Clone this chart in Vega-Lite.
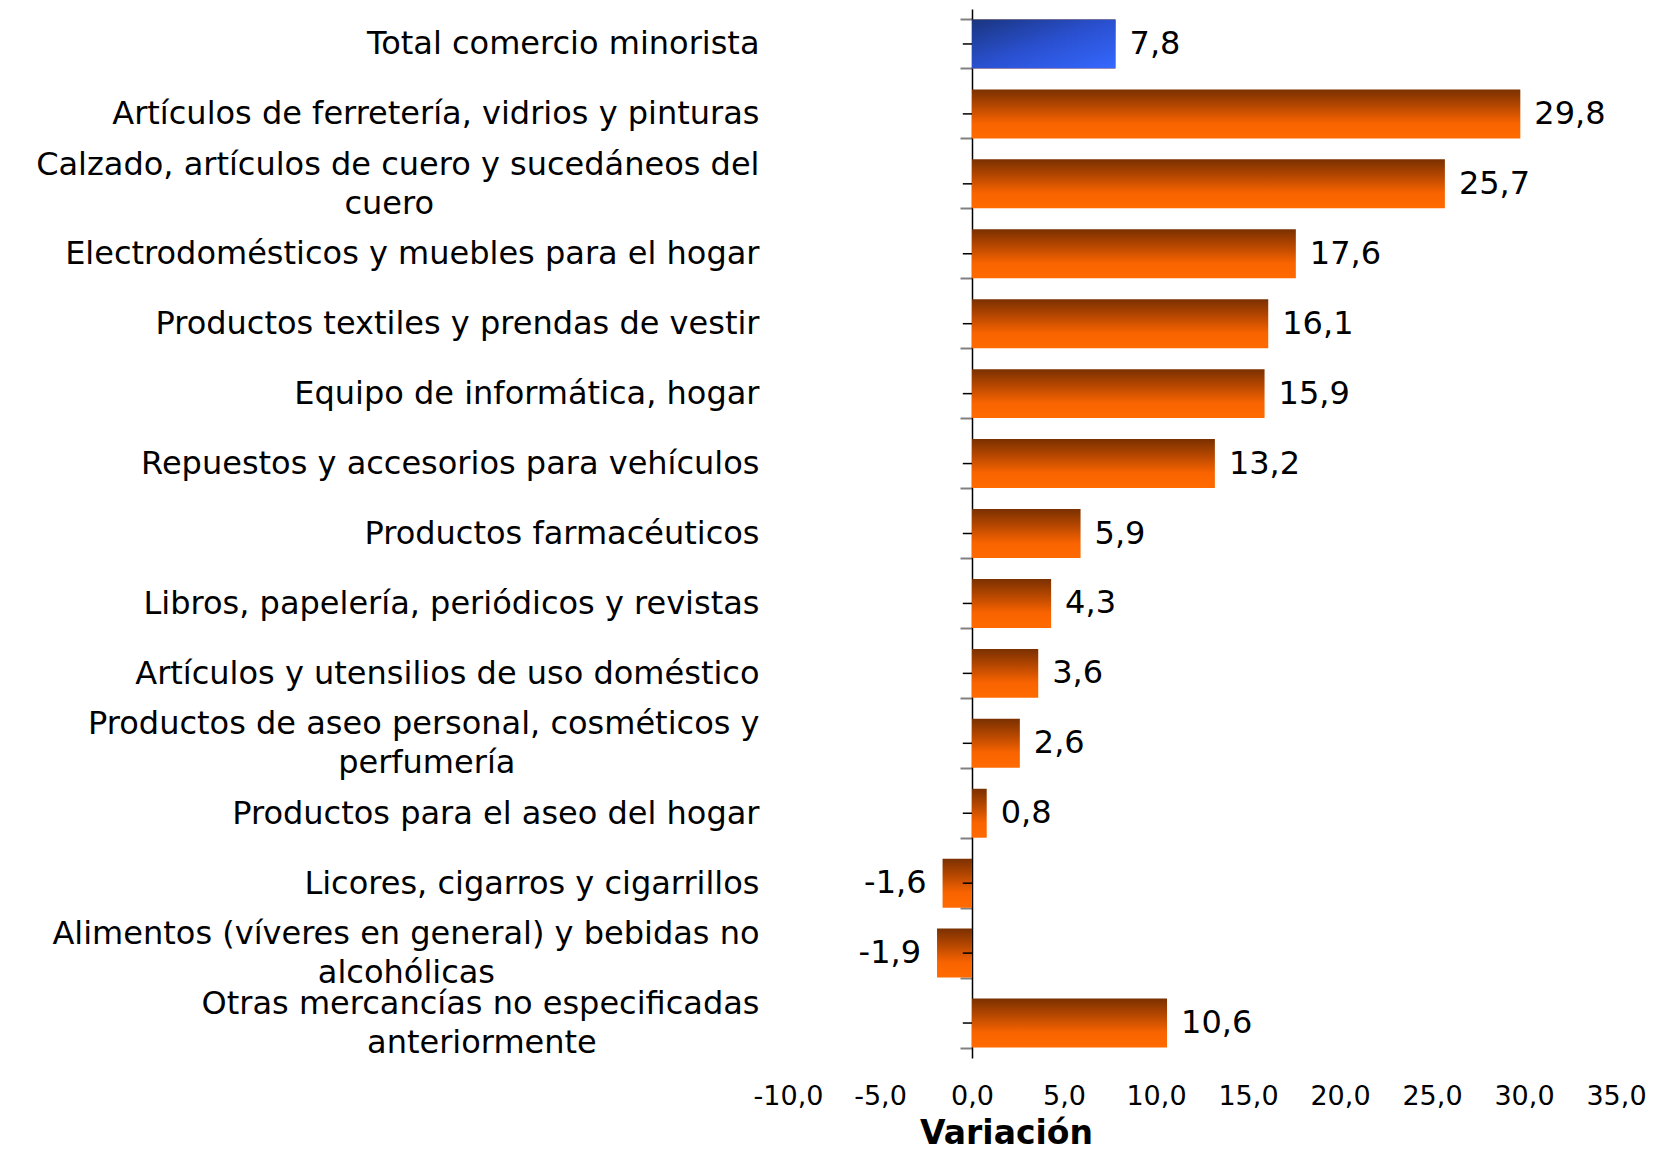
{
  "$schema": "https://vega.github.io/schema/vega-lite/v6.json",
  "width": 828,
  "height": 1049,
  "autosize": "none",
  "padding": {"left": 788, "top": 9, "right": 41, "bottom": 91},
  "background": "white",
  "config": {
    "view": {"stroke": null},
    "font": "DejaVu Sans",
    "locale": {"number": {"decimal": ",", "thousands": ".", "grouping": [3], "currency": ["", ""], "minus": "-"}}
  },
  "data": {
    "values": [
      {"categoria": "Total comercio minorista", "variacion": 7.8, "grupo": "total"},
      {"categoria": "Artículos de ferretería, vidrios y pinturas", "variacion": 29.8, "grupo": "rama"},
      {"categoria": "Calzado, artículos de cuero y sucedáneos del|cuero", "variacion": 25.7, "grupo": "rama"},
      {"categoria": "Electrodomésticos y muebles para el hogar", "variacion": 17.6, "grupo": "rama"},
      {"categoria": "Productos textiles y prendas de vestir", "variacion": 16.1, "grupo": "rama"},
      {"categoria": "Equipo de informática, hogar", "variacion": 15.9, "grupo": "rama"},
      {"categoria": "Repuestos y accesorios para vehículos", "variacion": 13.2, "grupo": "rama"},
      {"categoria": "Productos farmacéuticos", "variacion": 5.9, "grupo": "rama"},
      {"categoria": "Libros, papelería, periódicos y revistas", "variacion": 4.3, "grupo": "rama"},
      {"categoria": "Artículos y utensilios de uso doméstico", "variacion": 3.6, "grupo": "rama"},
      {"categoria": "Productos de aseo personal, cosméticos y|perfumería", "variacion": 2.6, "grupo": "rama"},
      {"categoria": "Productos para el aseo del hogar", "variacion": 0.8, "grupo": "rama"},
      {"categoria": "Licores, cigarros y cigarrillos", "variacion": -1.6, "grupo": "rama"},
      {"categoria": "Alimentos (víveres en general) y bebidas no|alcohólicas", "variacion": -1.9, "grupo": "rama"},
      {"categoria": "Otras mercancías no especificadas|anteriormente", "variacion": 10.6, "grupo": "rama"}
    ]
  },
  "layer": [
    {
      "mark": {"type": "bar", "color": {"gradient": "linear", "x1": 0, "y1": 0, "x2": 0, "y2": 1,
            "stops": [{"offset": 0, "color": "#7a3000"}, {"offset": 0.35, "color": "#b84800"}, {"offset": 0.7, "color": "#fa6400"}, {"offset": 1, "color": "#ff6a00"}]}},
      "encoding": {
        "y": {
          "field": "categoria", "type": "nominal", "sort": null,
          "scale": {"paddingInner": 0.3, "paddingOuter": 0.15},
          "axis": {
            "orient": "left", "offset": -184, "title": null,
            "domain": true, "domainColor": "black", "domainWidth": 1.5,
            "ticks": true, "tickBand": "extent", "tickColor": "#808080", "tickWidth": 2, "tickSize": 12,
            "labelFont": "DejaVu Sans", "labelFontSize": 32, "labelColor": "black", "labelLimit": 1000,
            "labelBaseline": "middle", "labelLineHeight": 19.5, "labelOffset": -19.5, "labelOverlap": false,
            "labelExpr": "indexof(datum.label, '|') >= 0 ? [split(datum.label, '|')[0], '\u200b', split(datum.label, '|')[1] + substring('\u00a0\u00a0\u00a0\u00a0\u00a0\u00a0\u00a0\u00a0\u00a0\u00a0\u00a0\u00a0\u00a0\u00a0\u00a0\u00a0\u00a0\u00a0\u00a0\u00a0\u00a0\u00a0\u00a0\u00a0\u00a0\u00a0\u00a0\u00a0\u00a0\u00a0\u00a0\u00a0\u00a0\u00a0\u00a0\u00a0\u00a0\u00a0\u00a0\u00a0', 0, round(0.81 * (length(split(datum.label, '|')[0]) - length(split(datum.label, '|')[1])))) + '\u200b'] : ['\u200b', datum.label]",
            "labelPadding": 201
          }
        },
        "x": {
          "field": "variacion", "type": "quantitative",
          "scale": {"domain": [-10, 35], "nice": false, "zero": false},
          "axis": {
            "title": "Variación", "titleFont": "DejaVu Sans", "titleFontWeight": "bold", "titleFontSize": 33,
            "titleColor": "black", "titleX": 218, "titleY": 85, "titleAlign": "center", "titleBaseline": "alphabetic",
            "domain": false, "ticks": false, "grid": false,
            "values": [-10, -5, 0, 5, 10, 15, 20, 25, 30, 35], "format": ".1f",
            "labelFont": "DejaVu Sans", "labelFontSize": 27, "labelColor": "black",
            "labelPadding": 38, "labelBaseline": "middle", "labelFlush": false, "labelOverlap": false
          }
        }
      }
    },
    {
      "transform": [{"filter": "datum.grupo === 'total'"}],
      "mark": {"type": "bar", "color": {"gradient": "linear", "x1": 0, "y1": 0, "x2": 1, "y2": 1,
              "stops": [{"offset": 0, "color": "#1a357f"}, {"offset": 0.5, "color": "#2a50d0"}, {"offset": 1, "color": "#3468ff"}]}},
      "encoding": {
        "y": {"field": "categoria", "type": "nominal", "sort": null},
        "x": {"field": "variacion", "type": "quantitative"}
      }
    },
    {
      "mark": {"type": "rule", "color": "black", "strokeWidth": 1.5},
      "encoding": {
        "y": {"field": "categoria", "type": "nominal", "sort": null},
        "x": {"datum": -0.5},
        "x2": {"datum": 0}
      }
    },
    {
      "transform": [{"filter": "datum.variacion >= 0"}],
      "mark": {"type": "text", "align": "left", "baseline": "middle", "dx": 14, "font": "DejaVu Sans", "fontSize": 32, "color": "black"},
      "encoding": {
        "y": {"field": "categoria", "type": "nominal", "sort": null},
        "x": {"field": "variacion", "type": "quantitative"},
        "text": {"field": "variacion", "type": "quantitative", "format": ".1f"}
      }
    },
    {
      "transform": [{"filter": "datum.variacion < 0"}],
      "mark": {"type": "text", "align": "right", "baseline": "middle", "dx": -16, "font": "DejaVu Sans", "fontSize": 32, "color": "black"},
      "encoding": {
        "y": {"field": "categoria", "type": "nominal", "sort": null},
        "x": {"field": "variacion", "type": "quantitative"},
        "text": {"field": "variacion", "type": "quantitative", "format": ".1f"}
      }
    }
  ]
}
